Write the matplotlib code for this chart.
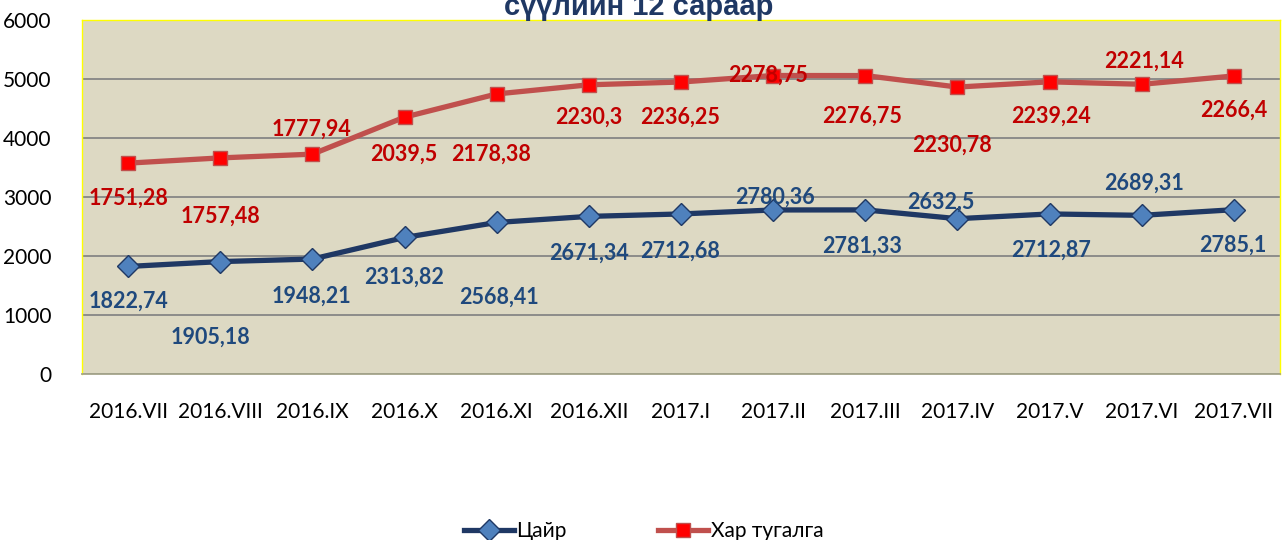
import numpy as np
import matplotlib.pyplot as plt

months = ['2016.VII', '2016.VIII', '2016.IX', '2016.X', '2016.XI', '2016.XII', '2017.I',
          '2017.II', '2017.III', '2017.IV', '2017.V', '2017.VI', '2017.VII']
zinc = [1822.74, 1905.18, 1948.21, 2313.82, 2568.41, 2671.34, 2712.68,
        2780.36, 2781.33, 2632.5, 2712.87, 2689.31, 2785.1]
lead = [1751.28, 1757.48, 1777.94, 2039.5, 2178.38, 2230.3, 2236.25,
        2278.75, 2276.75, 2230.78, 2239.24, 2221.14, 2266.4]

# label offsets in pixels (dx, dy down) - hand placed like in the original
zinc_off = [(0, 35), (-10, 76), (-1, 37), (0, 40), (2, 75), (0, 37), (-1, 37),
            (2, -13), (-3, 36), (-17, -16), (1, 36), (2, -32), (-1, 36)]
lead_off = [(0, 35), (0, 58), (-1, -25), (-1, 37), (-6, 60), (0, 32), (-1, 35),
            (-5, 0), (-3, 41), (-5, 58), (1, 34), (2, -23), (0, 34)]

plt.rcParams['font.family'] = ['Lato', 'DejaVu Sans']

fig = plt.figure(figsize=(12.85, 5.4), dpi=100)
ax = fig.add_axes([82/1285, 1-374/540, 1198/1285, 354/540])
ax.set_facecolor('#DDD9C3')

x = np.arange(len(months)) + 0.5
stacked = np.array(zinc) + np.array(lead)

ax.plot(x, zinc, color='#1F3864', lw=3.8, marker='D', ms=11,
        mfc='#4F81BD', mec='#1F3864', mew=1, label='Цайр', zorder=3)
ax.plot(x, stacked, color='#C0504D', lw=3.8, marker='s', ms=10,
        mfc='#FF0000', mec='#C0504D', mew=1, label='Хар тугалга', zorder=3)

def fmt(v):
    return ('%g' % v).replace('.', ',')

for xi, v, (dx, dy) in zip(x, zinc, zinc_off):
    ax.annotate(fmt(v), (xi, v), xytext=(dx, -dy), textcoords='offset pixels',
                ha='center', va='center', color='#1F497D', fontsize=15.5,
                fontweight='bold', zorder=4)
for xi, v, s, (dx, dy) in zip(x, lead, stacked, lead_off):
    ax.annotate(fmt(v), (xi, s), xytext=(dx, -dy), textcoords='offset pixels',
                ha='center', va='center', color='#C00000', fontsize=15.5,
                fontweight='bold', zorder=4)

ax.set_xlim(0, len(months))
ax.set_ylim(0, 6000)
ax.set_yticks(range(0, 6001, 1000))
ax.set_xticks(x)
ax.set_xticklabels(months)
ax.tick_params(axis='both', length=0, labelsize=15)
ax.tick_params(axis='x', pad=20)
ax.tick_params(axis='y', pad=22)
ax.yaxis.grid(True, color='#868686', lw=1.3)
ax.set_axisbelow(True)
for s in ['left', 'top', 'right']:
    ax.spines[s].set_color('#FFFF00')
    ax.spines[s].set_linewidth(1)
ax.spines['bottom'].set_color('#A5A58A')
ax.spines['bottom'].set_linewidth(1.3)

fig.text(0.497, 1 - 15/540, 'сүүлийн 12 сараар', ha='center', va='baseline',
         fontsize=21, fontweight='bold', color='#1F3864', family='Liberation Sans')

fig.legend(loc='center', bbox_to_anchor=(0.501, 1 - 531/540), ncol=2, frameon=False,
           fontsize=15, columnspacing=4.4, handlelength=2.4, handletextpad=0.1)

fig.savefig('out.png', dpi=100)
